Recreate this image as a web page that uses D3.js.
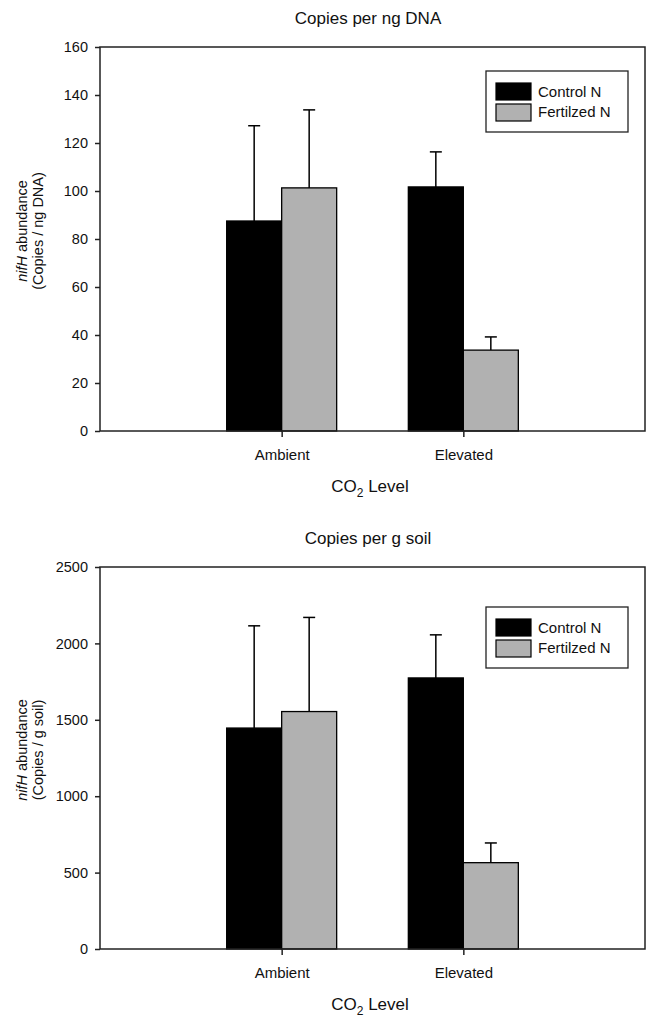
<!DOCTYPE html>
<html><head><meta charset="utf-8">
<script src="https://cdn.jsdelivr.net/npm/d3@7"></script>
<style>body{margin:0;background:#fff}svg{display:block;font-family:Arial,"Liberation Sans",sans-serif}</style>
</head><body>
<script>
const categories = ["Ambient", "Elevated"];
const seriesNames = ["Control N", "Fertilzed N"];
const dnaControl = [87.5, 101.7];
const dnaControlErr = [127.2, 116.3];
const dnaFert = [101.3, 33.7];
const dnaFertErr = [133.8, 39.2];
const soilControl = [1446, 1774];
const soilControlErr = [2115, 2056];
const soilFert = [1554, 565];
const soilFertErr = [2170, 694];
const dnaTicks = [0, 20, 40, 60, 80, 100, 120, 140, 160];
const soilTicks = [0, 500, 1000, 1500, 2000, 2500];
const colors = ["#000000", "#b1b1b1"];

const W = 650, H = 1019;
const svg = d3.select("body").append("svg").attr("width", W).attr("height", H);
const FF = "Arial, 'Liberation Sans', sans-serif";

function panel(cfg) {
  const L = 100, R = 645, T = cfg.top, B = cfg.bottom;
  const g = svg.append("g");
  const x = d3.scalePoint().domain(categories).range([L, R]).padding(1);
  const y = d3.scaleLinear().domain([0, cfg.max]).range([B, T]);
  const bw = 55;
  const series = [
    {vals: cfg.c, errs: cfg.ce, off: -bw, col: colors[0]},
    {vals: cfg.f, errs: cfg.fe, off: 0, col: colors[1]}
  ];
  series.forEach(s => {
    categories.forEach((cat, i) => {
      const cx = x(cat) + s.off + bw / 2;
      g.append("line").attr("x1", cx).attr("x2", cx).attr("y1", y(s.vals[i])).attr("y2", y(s.errs[i]))
        .attr("stroke", "#000").attr("stroke-width", 1.5);
      g.append("line").attr("x1", cx - 6).attr("x2", cx + 6).attr("y1", y(s.errs[i])).attr("y2", y(s.errs[i]))
        .attr("stroke", "#000").attr("stroke-width", 1.5);
      g.append("rect").attr("x", x(cat) + s.off).attr("width", bw)
        .attr("y", y(s.vals[i])).attr("height", y(0) - y(s.vals[i]))
        .attr("fill", s.col).attr("stroke", "#000").attr("stroke-width", 1.3);
    });
  });
  g.append("rect").attr("x", L).attr("y", T).attr("width", R - L).attr("height", B - T)
    .attr("fill", "none").attr("stroke", "#222").attr("stroke-width", 1.5);
  const ya = g.append("g").attr("transform", `translate(${L},0)`)
    .call(d3.axisLeft(y).tickValues(cfg.ticks).tickSize(5).tickPadding(7).tickFormat(d3.format("d")));
  ya.select(".domain").remove();
  ya.selectAll("line").attr("stroke", "#222").attr("stroke-width", 1.5);
  ya.selectAll("text").attr("font-size", 14.5).attr("fill", "#111").attr("font-family", FF);
  const xa = g.append("g").attr("transform", `translate(0,${B})`)
    .call(d3.axisBottom(x).tickSize(6).tickPadding(12));
  xa.select(".domain").remove();
  xa.selectAll("line").attr("stroke", "#222").attr("stroke-width", 1.5);
  xa.selectAll("text").attr("font-size", 15).attr("fill", "#111").attr("font-family", FF);
  g.append("text").attr("x", 368).attr("y", T - 23).attr("text-anchor", "middle")
    .attr("font-size", 17).attr("fill", "#111").text(cfg.title);
  const xt = g.append("text").attr("x", 370).attr("y", B + 61).attr("text-anchor", "middle")
    .attr("font-size", 17).attr("fill", "#111");
  xt.append("tspan").text("CO");
  xt.append("tspan").attr("font-size", 12).attr("dy", 5).text("2");
  xt.append("tspan").attr("dy", -5).text(" Level");
  const cy = (T + B) / 2 - 8;
  const yt = g.append("text").attr("transform", `translate(27,${cy}) rotate(-90)`).attr("text-anchor", "middle")
    .attr("font-size", 14.5).attr("fill", "#111");
  yt.append("tspan").attr("font-style", "italic").text("nifH");
  yt.append("tspan").text(" abundance");
  g.append("text").attr("transform", `translate(43,${cy}) rotate(-90)`).attr("text-anchor", "middle")
    .attr("font-size", 14.5).attr("fill", "#111").text(cfg.unit);
  const lg = g.append("g");
  const lt = cfg.legTop;
  lg.append("rect").attr("x", 486).attr("y", lt).attr("width", 142).attr("height", 61)
    .attr("fill", "#fff").attr("stroke", "#222").attr("stroke-width", 1.3);
  seriesNames.forEach((n, i) => {
    lg.append("rect").attr("x", 496).attr("y", lt + 12 + i * 21).attr("width", 35).attr("height", 17)
      .attr("fill", colors[i]).attr("stroke", "#000").attr("stroke-width", 1.2);
    lg.append("text").attr("x", 538).attr("y", lt + 26 + i * 20).attr("font-size", 15).attr("fill", "#111").text(n);
  });
}

panel({top: 47, bottom: 431, max: 160, ticks: dnaTicks, c: dnaControl, ce: dnaControlErr, f: dnaFert, fe: dnaFertErr,
  title: "Copies per ng DNA", unit: "(Copies / ng DNA)", legTop: 71});
panel({top: 567, bottom: 949, max: 2500, ticks: soilTicks, c: soilControl, ce: soilControlErr, f: soilFert, fe: soilFertErr,
  title: "Copies per g soil", unit: "(Copies / g soil)", legTop: 607});
</script>
</body></html>
